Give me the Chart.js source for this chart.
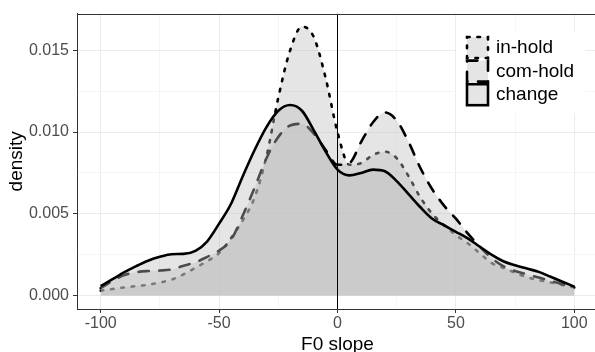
<!DOCTYPE html>
<html>
<head>
<meta charset="utf-8">
<script src="https://cdn.jsdelivr.net/npm/chart.js@4/dist/chart.umd.min.js"></script>
<style>
  html, body { margin: 0; padding: 0; background: #fff; width: 595px; height: 352px; overflow: hidden; }
  canvas { display: block; }
</style>
</head>
<body>
<canvas id="chart" width="600" height="352"></canvas>
<script>
const FONT = "'Liberation Sans', Arial, sans-serif";
const FILL = "rgba(190,190,190,0.4)";
const LWD = 2.6;

const seriesNames = ["in-hold", "com-hold", "change"];

const f0Slope = [
  -100, -95, -90, -85, -80, -75, -70, -65, -60, -55, -50,
  -45, -40, -35, -30, -25, -20, -15, -10, -5, 0,
  5, 10, 15, 20, 25, 30, 35, 40, 45, 50,
  55, 60, 65, 70, 75, 80, 85, 90, 95, 100,
];

const inHold = [
  0.0003, 0.0004, 0.0005, 0.00058, 0.00066, 0.0008, 0.00098, 0.0013, 0.0017, 0.0021, 0.0026,
  0.0035, 0.0046, 0.0060, 0.0085, 0.0121, 0.0150, 0.01645, 0.0158, 0.0133, 0.0100,
  0.0080, 0.0081, 0.0086, 0.0088, 0.0084, 0.0073, 0.0060, 0.0050, 0.0043, 0.0037,
  0.0032, 0.0026, 0.0020, 0.0017, 0.0014, 0.00112, 0.00095, 0.0008, 0.00065, 0.0005,
];

const comHold = [
  0.00045, 0.0009, 0.00125, 0.00143, 0.0015, 0.00153, 0.0016, 0.00183, 0.00203, 0.00237, 0.00275,
  0.0034, 0.0049, 0.0066, 0.0084, 0.0097, 0.0104, 0.0105, 0.0099, 0.0089, 0.0080,
  0.0081, 0.0094, 0.0106, 0.0112, 0.0107, 0.0094, 0.0078, 0.0065, 0.0055, 0.0047,
  0.0038, 0.0030, 0.0023, 0.0018, 0.0015, 0.0013, 0.0011, 0.0009, 0.0007, 0.0005,
];

const change = [
  0.00058, 0.0010, 0.00143, 0.0018, 0.00213, 0.00237, 0.00253, 0.00255, 0.00273, 0.00332, 0.0044,
  0.0056, 0.0073, 0.0089, 0.0103, 0.0113, 0.01165, 0.0113, 0.0101, 0.0088, 0.0077,
  0.00735, 0.0075, 0.0077, 0.0076, 0.0070, 0.0062, 0.0054, 0.0047, 0.0043, 0.0039,
  0.0035, 0.0030, 0.0025, 0.0021, 0.00185, 0.00165, 0.00145, 0.00115, 0.00085, 0.00055,
];

const xMin = -110, xMax = 110;
const yMin = -0.00082, yMax = 0.01724;
const xTickValues = [-100, -75, -50, -25, 0, 25, 50, 75, 100];
const xTickLabels = ["-100", "", "-50", "", "0", "", "50", "", "100"];
const yTickValues = [0, 0.0025, 0.005, 0.0075, 0.01, 0.0125, 0.015];
const yTickLabels = ["0.000", "", "0.005", "", "0.010", "", "0.015"];
const vlineAt = 0;

const dashes = [[LWD, LWD * 3], [LWD * 4, LWD * 4], []];

function series(values, i) {
  return {
    label: seriesNames[i],
    data: f0Slope.map((x, k) => ({ x, y: values[k] })),
    borderColor: "#000000",
    backgroundColor: FILL,
    borderWidth: LWD,
    borderDash: dashes[i],
    borderCapStyle: dashes[i].length ? "round" : "butt",
    fill: "origin",
    cubicInterpolationMode: "monotone",
    pointRadius: 0,
  };
}

// drawn last index first: in-hold, then com-hold, then change, then the zero line
const datasets = [
  {
    label: "zero",
    data: [{ x: vlineAt, y: yMin }, { x: vlineAt, y: yMax }],
    borderColor: "#000000",
    borderWidth: 1,
    fill: false,
    pointRadius: 0,
  },
  series(change, 2),
  series(comHold, 1),
  series(inHold, 0),
];

const panelBorder = {
  id: "panelBorder",
  afterDraw(chart) {
    const { ctx, chartArea: a } = chart;
    ctx.save();
    ctx.strokeStyle = "#333333";
    ctx.lineWidth = 1;
    ctx.strokeRect(Math.round(a.left) + 0.5, Math.round(a.top) + 0.5,
      Math.round(a.right - a.left), Math.round(a.bottom - a.top));
    ctx.restore();
  },
};

const insideLegend = {
  id: "insideLegend",
  afterDraw(chart) {
    const ctx = chart.ctx;
    ctx.save();
    ctx.fillStyle = "#ffffff";
    ctx.fillRect(456, 32, 129, 81);
    seriesNames.forEach((name, i) => {
      const top = 37 + i * 23.6;
      ctx.fillStyle = "#ffffff";
      ctx.fillRect(467, top, 21, 21);
      ctx.fillStyle = FILL;
      ctx.fillRect(467, top, 21, 21);
      ctx.setLineDash(dashes[i]);
      ctx.lineCap = dashes[i].length ? "round" : "butt";
      ctx.lineWidth = LWD;
      ctx.strokeStyle = "#000000";
      ctx.strokeRect(467, top, 21, 21);
      ctx.setLineDash([]);
      ctx.fillStyle = "#000000";
      ctx.font = `19px ${FONT}`;
      ctx.textBaseline = "middle";
      ctx.textAlign = "left";
      ctx.fillText(name, 496, top + 11);
    });
    ctx.restore();
  },
};

new Chart(document.getElementById("chart"), {
  type: "line",
  data: { datasets },
  options: {
    responsive: false,
    animation: false,
    events: [],
    layout: { padding: { top: 7, right: 2, left: 0, bottom: 0 } },
    plugins: {
      legend: { display: false },
      tooltip: { enabled: false },
    },
    scales: {
      x: {
        type: "linear",
        min: xMin,
        max: xMax,
        afterBuildTicks: (s) => { s.ticks = xTickValues.map((v) => ({ value: v })); },
        afterFit: (s) => { s.height = 43; },
        ticks: {
          autoSkip: false,
          maxRotation: 0,
          padding: 1,
          color: "#4D4D4D",
          font: { family: FONT, size: 16 },
          callback: (v, i) => xTickLabels[i],
        },
        grid: {
          color: (c) => (xTickLabels[c.index] ? "#EBEBEB" : "#F5F5F5"),
          tickColor: (c) => (xTickLabels[c.index] ? "#333333" : "rgba(0,0,0,0)"),
          tickLength: 4,
          lineWidth: 1,
        },
        border: { color: "#333333", width: 1 },
        title: {
          display: true,
          text: "F0 slope",
          color: "#000000",
          font: { family: FONT, size: 19, lineHeight: 0.65 },
          padding: { top: 0, bottom: 1 },
        },
      },
      y: {
        min: yMin,
        max: yMax,
        afterBuildTicks: (s) => { s.ticks = yTickValues.map((v) => ({ value: v })); },
        afterFit: (s) => { s.width = 77; },
        ticks: {
          autoSkip: false,
          padding: 4,
          color: "#4D4D4D",
          font: { family: FONT, size: 16 },
          callback: (v, i) => yTickLabels[i],
        },
        grid: {
          color: (c) => (yTickLabels[c.index] ? "#EBEBEB" : "#F5F5F5"),
          tickColor: (c) => (yTickLabels[c.index] ? "#333333" : "rgba(0,0,0,0)"),
          tickLength: 4,
          lineWidth: 1,
        },
        border: { color: "#333333", width: 1 },
        title: {
          display: true,
          text: "density",
          color: "#000000",
          font: { family: FONT, size: 19, lineHeight: 1 },
          padding: { top: 7, bottom: 0 },
        },
      },
    },
  },
  plugins: [panelBorder, insideLegend],
});
</script>
</body>
</html>
